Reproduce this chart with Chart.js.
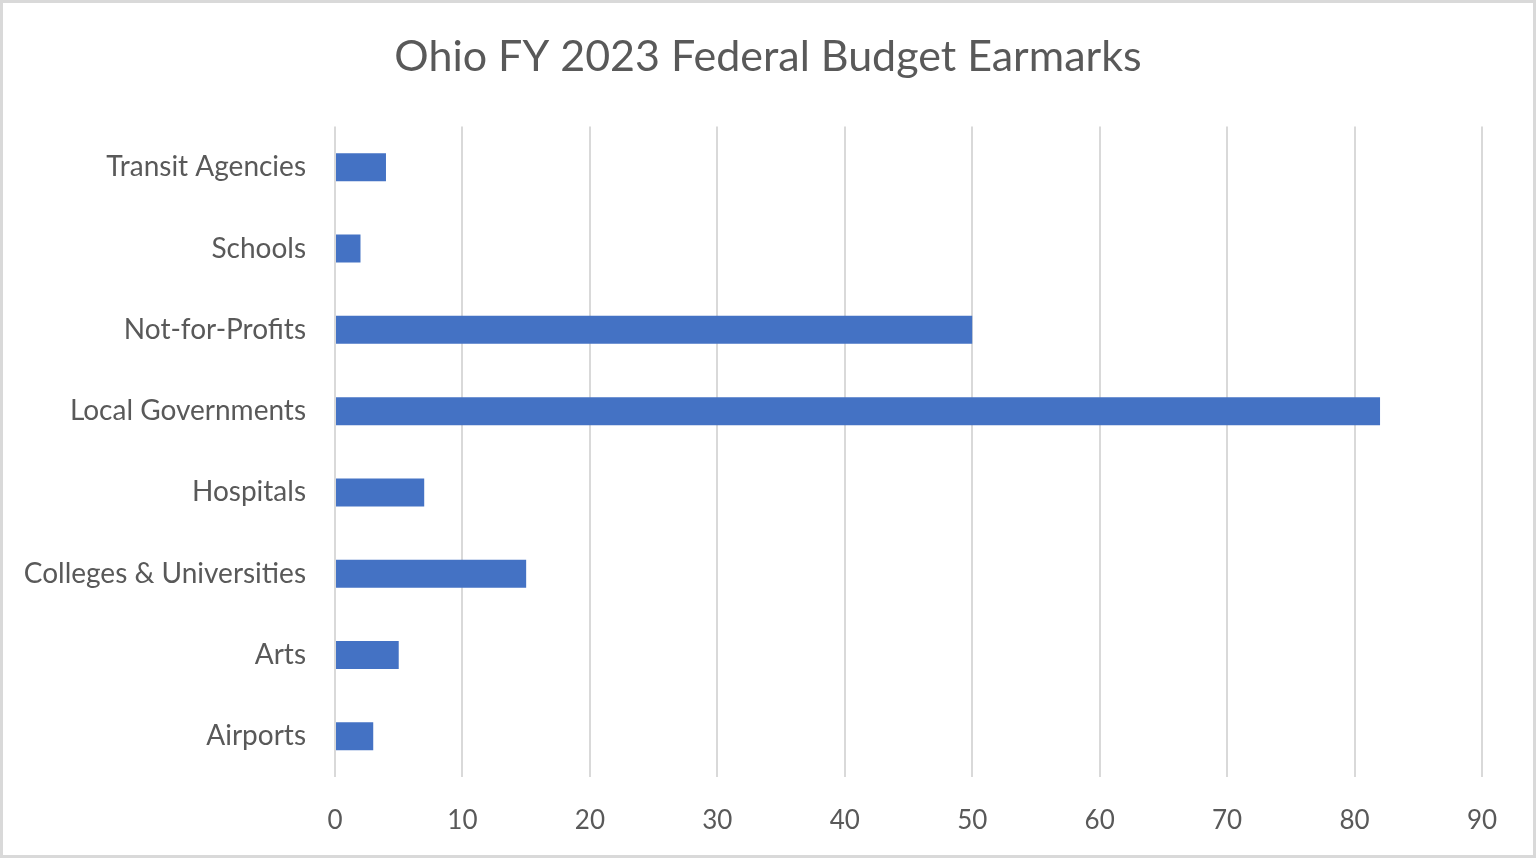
<!DOCTYPE html>
<html>
<head>
<meta charset="utf-8">
<script src="https://cdn.jsdelivr.net/npm/chart.js@4/dist/chart.umd.min.js"></script>
<style>
  html, body { margin: 0; padding: 0; background: #fff; }
  #wrap { width: 1536px; height: 858px; position: relative; }
</style>
</head>
<body>
<div id="wrap"><canvas id="c"></canvas></div>
<script>
// earmark counts, top row first
const categories = ['Transit Agencies', 'Schools', 'Not-for-Profits', 'Local Governments',
  'Hospitals', 'Colleges & Universities', 'Arts', 'Airports'];
const earmarks = [4, 2, 50, 82, 7, 15, 5, 3];
const xTicks = [0, 10, 20, 30, 40, 50, 60, 70, 80, 90];

const FONT = 'Lato, "Open Sans", sans-serif';
const GREY = '#595959';

const frame = {
  id: 'frame',
  beforeDraw(chart) {
    const { ctx, width, height } = chart;
    ctx.save();
    ctx.fillStyle = '#fff';
    ctx.fillRect(0, 0, width, height);
    ctx.strokeStyle = '#d9d9d9';
    ctx.lineWidth = 3;
    ctx.strokeRect(1.5, 1.5, width - 3, height - 3);
    ctx.restore();
  }
};

new Chart(document.getElementById('c'), {
  type: 'bar',
  data: {
    labels: categories,
    datasets: [{
      data: earmarks,
      backgroundColor: '#4472c4',
      categoryPercentage: 1,
      barPercentage: 0.345
    }]
  },
  options: {
    indexAxis: 'y',
    responsive: true,
    maintainAspectRatio: false,
    animation: false,
    layout: { padding: 0 },
    plugins: {
      legend: { display: false },
      tooltip: { enabled: false },
      title: {
        display: true,
        text: 'Ohio FY 2023 Federal Budget Earmarks',
        color: GREY,
        font: { family: FONT, size: 43, weight: 'normal' },
        padding: { top: 31, bottom: 44 }
      }
    },
    scales: {
      x: {
        min: 0, max: 90,
        afterBuildTicks(axis) { axis.ticks = xTicks.map(v => ({ value: v })); },
        afterFit(axis) { axis.height = 81; },
        grid: { color: '#d9d9d9', lineWidth: 2, drawTicks: false },
        border: { display: false },
        ticks: { color: GREY, font: { family: FONT, size: 26 }, padding: 28 }
      },
      y: {
        afterFit(axis) { axis.width = 335; },
        grid: { display: false },
        border: { display: false },
        ticks: { color: GREY, font: { family: FONT, size: 28 }, padding: 21 }
      },
      // empty spacer on the right so the plot ends where the reference does
      right: {
        type: 'category',
        position: 'right',
        afterFit(axis) { axis.width = 54; },
        grid: { display: false },
        border: { display: false },
        ticks: { display: false }
      }
    }
  },
  plugins: [frame]
});
</script>
</body>
</html>
